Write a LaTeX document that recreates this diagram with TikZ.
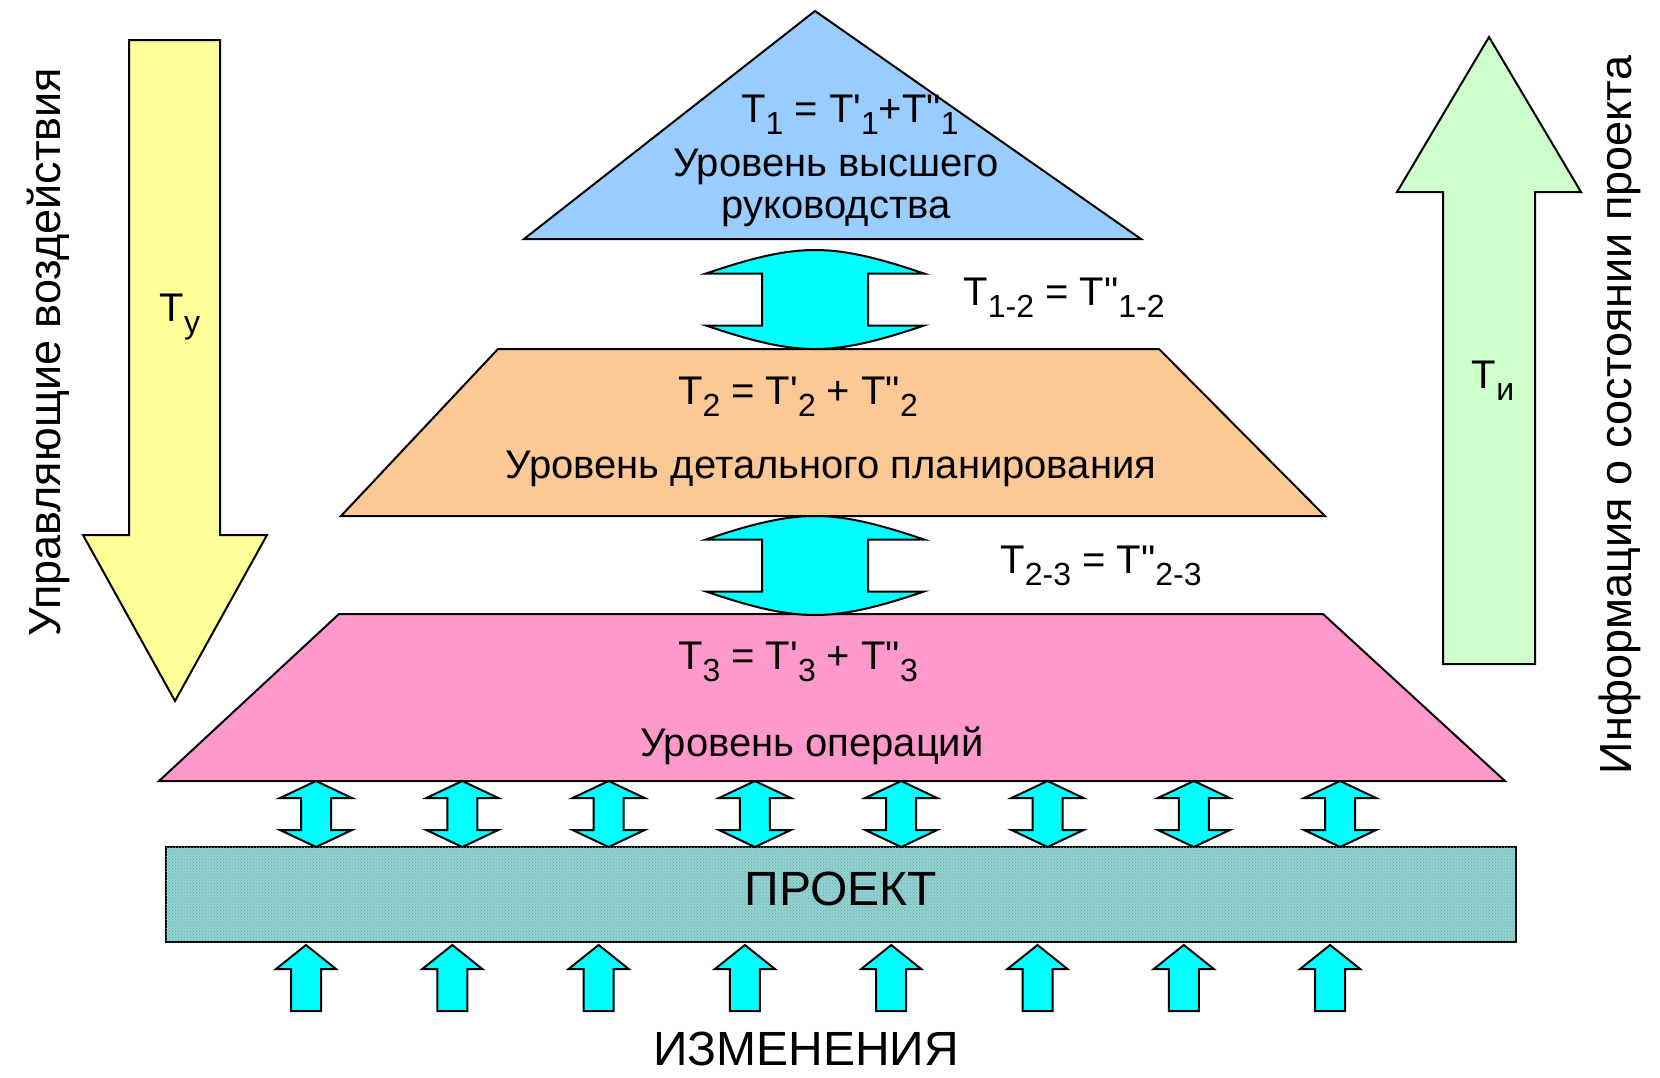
\documentclass[tikz,border=0pt]{standalone}
\usepackage{graphicx}
\usepackage{fontspec}
\newfontfamily\af{Liberation Sans}[Ligatures=TeXOff]
\usetikzlibrary{patterns}
\newcommand\lo[1]{\raisebox{-0.3em}{\scalebox{0.8}{#1}}}
\definecolor{ylw}{RGB}{255,255,153}
\definecolor{grn}{RGB}{204,255,204}
\definecolor{blu}{RGB}{153,204,255}
\definecolor{org}{RGB}{252,200,150}
\definecolor{pnk}{RGB}{255,153,204}
\definecolor{cyn}{RGB}{0,255,255}
\definecolor{prj}{RGB}{150,210,210}
\definecolor{prjd}{RGB}{90,170,170}
\tikzset{
  outl/.style={draw=black, line width=2pt, line join=miter},
  txt/.style={font=\af\fontsize{40}{44}\selectfont, inner sep=0pt},
  bigtxt/.style={font=\af\fontsize{#1}{#1}\selectfont, inner sep=0pt},
  bigdbl/.pic={
    \path[outl, fill=cyn] (-53,-26) -- (-109,-26)
      .. controls (-62,-42) and (-30,-49.5) .. (0,-49.5)
      .. controls (30,-49.5) and (62,-42) .. (109,-26)
      -- (53,-26) -- (53,26) -- (109,26)
      .. controls (62,42) and (30,49.5) .. (0,49.5)
      .. controls (-30,49.5) and (-62,42) .. (-109,26)
      -- (-53,26) -- cycle;
  },
  smalldbl/.pic={
    \path[outl, fill=cyn] (0,-33) -- (36,-16) -- (15,-16) -- (15,16) -- (36,16)
      -- (0,33) -- (-36,16) -- (-15,16) -- (-15,-16) -- (-36,-16) -- cycle;
  },
  uparr/.pic={
    \path[outl, fill=cyn] (0,0) -- (30,24) -- (15,24) -- (15,66) -- (-15,66)
      -- (-15,24) -- (-30,24) -- cycle;
  }
}
\begin{document}
\begin{tikzpicture}[x=1pt, y=-1pt]
\useasboundingbox[fill=white] (0,0) rectangle (1660,1077);

% side arrows
\path[outl, fill=ylw] (129,40) -- (220,40) -- (220,535) -- (267,535) -- (175,701)
  -- (83,535) -- (129,535) -- cycle;
\path[outl, fill=grn] (1489,37) -- (1581,192) -- (1535,192) -- (1535,664)
  -- (1443,664) -- (1443,192) -- (1397,192) -- cycle;

% levels
\path[outl, fill=blu] (815,11) -- (1141,239) -- (524,239) -- cycle;
\path[outl, fill=org] (498,349) -- (1159,349) -- (1325,516) -- (341,516) -- cycle;
\path[outl, fill=pnk] (339,614) -- (1323,614) -- (1505,781) -- (159,781) -- cycle;

% project box
\path[outl, fill=prj, postaction={pattern=crosshatch dots, pattern color=prjd}]
  (166,847) rectangle (1516,942);

% connecting arrows
\pic at (815,299.5) {bigdbl};
\pic at (815,565.5) {bigdbl};
\foreach \i in {0,...,7} {
  \pic at ({316+146.3*\i},814) {smalldbl};
  \pic at ({306+146.3*\i},945) {uparr};
}

% texts
\node[txt] (t1) at (850,115) {T\lo{1} = T'\lo{1}+T"\lo{1}};
\node[txt] (l1a) at (836,167) {Уровень высшего};
\node[txt] (l1b) at (836,212) {руководства};
\node[txt] (t12) at (1064,298) {T\lo{1-2} = T"\lo{1-2}};
\node[txt] (t2) at (798,397) {T\lo{2} = T'\lo{2} + T"\lo{2}};
\node[txt] (l2) at (831,469) {Уровень детального планирования};
\node[txt] (t23) at (1101,566) {T\lo{2-3} = T"\lo{2-3}};
\node[txt] (t3) at (798,662) {T\lo{3} = T'\lo{3} + T"\lo{3}};
\node[txt] (l3) at (812,746) {Уровень операций};
\node[bigtxt=48] (proj) at (841,889) {ПРОЕКТ};
\node[bigtxt=48] (chg) at (806,1049) {ИЗМЕНЕНИЯ};
\node[txt] (ty) at (180,317) {T\lo{у}};
\node[txt] (ti) at (1493,381) {T\lo{и}};
\node[bigtxt=45, rotate=90] (left) at (48,352) {Управляющие воздействия};
\node[bigtxt=45, rotate=90] (right) at (1620,415) {Информация о состоянии проекта};
\end{tikzpicture}
\end{document}
